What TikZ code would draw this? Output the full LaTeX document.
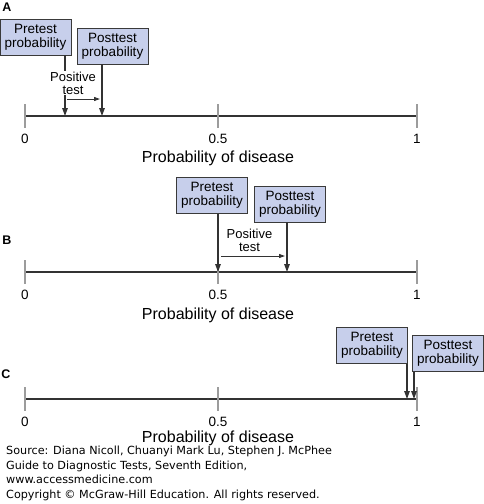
\documentclass[tikz,border=0pt]{standalone}
\usepackage{fontspec}
\setmainfont{Liberation Sans}
\newfontfamily\footfont{DejaVu Sans}
\usetikzlibrary{arrows.meta}

\definecolor{boxFill}{HTML}{C7CFEB}
\definecolor{boxLine}{HTML}{3A3A3A}
\definecolor{axisLine}{HTML}{333333}
\definecolor{tickGray}{HTML}{9C9C9C}

\tikzset{
  probbox/.style={draw=boxLine,fill=boxFill,line width=0.9pt,minimum width=71pt,
    minimum height=36pt,inner sep=0pt,align=center,font=\fontsize{13.5}{14}\selectfont},
  pointer/.style={draw=axisLine,line width=1.3pt,-{Triangle[length=8pt,width=5.5pt]}},
  shiftarrow/.style={draw=axisLine,line width=1pt,-{Triangle[length=6pt,width=4pt]}},
  testlabel/.style={fill=white,inner sep=1pt,align=center,font=\fontsize{13}{13}\selectfont},
  ticklabel/.style={font=\fontsize{13.5}{13.5}\selectfont},
  panel/.style={font=\fontsize{12.5}{12.5}\bfseries\selectfont,inner sep=0pt}
}

\begin{document}
\begin{tikzpicture}[x=1pt,y=-1pt]
  \useasboundingbox (0,0) rectangle (484,504);

  % axes, ticks and labels
  \foreach \yy/\nm/\tdy in {116/A/42,272/B/43,399/C/39} {
    \draw[axisLine,line width=1.3pt] (25,\yy) -- (417,\yy);
    \foreach \xx in {25,218,417}
      \draw[tickGray,line width=1.3pt] (\xx,\yy-12) -- (\xx,\yy+12);
    \node[ticklabel] (zero\nm) at (25,\yy+23) {0};
    \node[ticklabel] (half\nm) at (218,\yy+23) {0.5};
    \node[ticklabel] (one\nm) at (417,\yy+23) {1};
    \node[font=\fontsize{16}{16}\selectfont] (title\nm) at (218,\yy+\tdy) {Probability of disease};
  }

  \node[panel] (panA) at (7,7) {A};
  \node[panel] (panB) at (7,240) {B};
  \node[panel] (panC) at (6,374) {C};

  % panel A
  \coordinate (preA) at (65,116);
  \coordinate (postA) at (102,116);
  \node[probbox] (preboxA) at (35.5,37) {Pretest\\probability};
  \node[probbox] (postboxA) at (112.5,46) {Posttest\\probability};
  \draw[pointer] (preboxA.south -| preA) -- (preA);
  \draw[pointer] (postboxA.south -| postA) -- (postA);
  \node[testlabel] (testA) at (73,83) {Positive\\test};
  \coordinate (shA1) at (67,99);
  \coordinate (shA2) at (100,99);
  \draw[shiftarrow] (shA1) -- (shA2);

  % panel B
  \coordinate (preB) at (218,272);
  \coordinate (postB) at (287,272);
  \node[probbox] (preboxB) at (212,195.5) {Pretest\\probability};
  \node[probbox] (postboxB) at (290,204) {Posttest\\probability};
  \draw[pointer] (preboxB.south -| preB) -- (preB);
  \draw[pointer] (postboxB.south -| postB) -- (postB);
  \node[testlabel] (testB) at (249.5,240) {Positive\\test};
  \coordinate (shB1) at (221,256);
  \coordinate (shB2) at (285,256);
  \draw[shiftarrow] (shB1) -- (shB2);

  % panel C
  \coordinate (preC) at (407,399);
  \coordinate (postC) at (414,399);
  \node[probbox] (preboxC) at (372,345.5) {Pretest\\probability};
  \node[probbox] (postboxC) at (448,353.5) {Posttest\\probability};
  \draw[pointer] (preboxC.south -| preC) -- (preC);
  \draw[pointer] (postboxC.south -| postC) -- (postC);

  % source note
  \node[anchor=north west,inner sep=0pt,align=left,font=\footfont\fontsize{11.2}{14.6}\selectfont]
    (source) at (6,446) {Source: Diana Nicoll, Chuanyi Mark Lu, Stephen J. McPhee\\
    Guide to Diagnostic Tests, Seventh Edition,\\
    www.accessmedicine.com\\
    Copyright \textcopyright{} McGraw-Hill Education. All rights reserved.};
\end{tikzpicture}
\end{document}
